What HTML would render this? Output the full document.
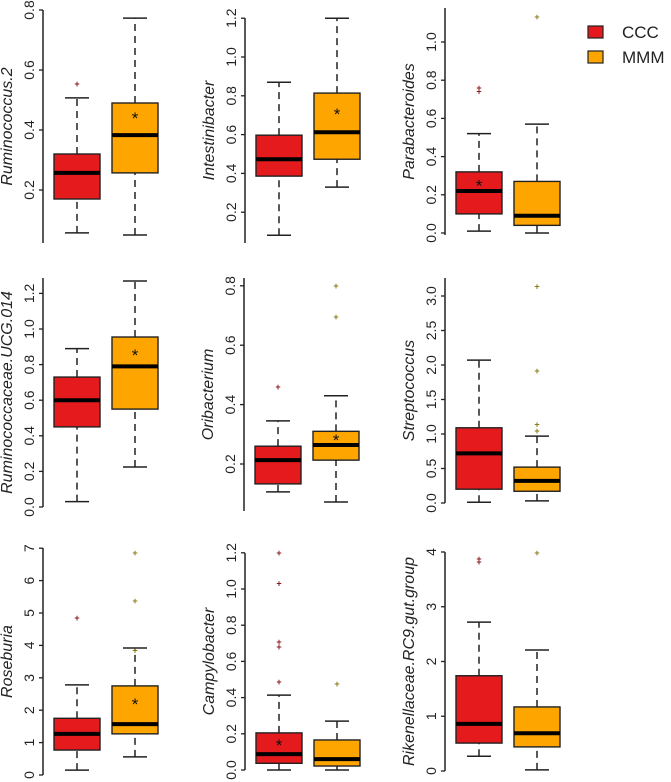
<!DOCTYPE html>
<html><head><meta charset="utf-8"><style>
html,body{margin:0;padding:0;background:#fff;}
svg{display:block;font-family:"Liberation Sans",sans-serif;}
</style></head><body>
<svg id="chart" width="671" height="782" viewBox="0 0 671 782"></svg>
<script>
// ---- data (values) ----
const groups = ["CCC", "MMM"];
const taxa = ["Ruminococcus.2","Intestinibacter","Parabacteroides","Ruminococcaceae.UCG.014","Oribacterium","Streptococcus","Roseburia","Campylobacter","Rikenellaceae.RC9.gut.group"];
// [low whisker, q1, median, q3, high whisker]
const cccStats = [
  [0.057,0.17,0.257,0.32,0.507],
  [0.081,0.386,0.473,0.597,0.870],
  [0.01,0.10,0.22,0.32,0.52],
  [0.03,0.45,0.60,0.73,0.89],
  [0.106,0.133,0.213,0.26,0.345],
  [0.01,0.2,0.72,1.09,2.07],
  [0.15,0.77,1.27,1.75,2.78],
  [0.0,0.037,0.088,0.205,0.414],
  [0.27,0.51,0.86,1.74,2.72]
];
const mmmStats = [
  [0.05,0.257,0.383,0.49,0.773],
  [0.329,0.473,0.612,0.814,1.2],
  [0.0,0.04,0.09,0.27,0.57],
  [0.225,0.55,0.79,0.955,1.27],
  [0.072,0.213,0.264,0.31,0.43],
  [0.03,0.17,0.32,0.52,0.97],
  [0.56,1.27,1.57,2.75,3.92],
  [0.0,0.022,0.06,0.166,0.27],
  [0.02,0.44,0.69,1.17,2.21]
];
const cccOutliers = [[0.553],[],[0.76,0.74],[],[0.46],[],[4.84],[0.486,0.68,0.707,1.03,1.2],[3.87,3.82]];
const mmmOutliers = [[],[],[1.13],[],[0.695,0.80],[1.04,1.14,1.91,3.14],[3.85,5.37,6.85],[0.475],[3.98]];
const cccMeans = [null,null,0.26,null,null,null,null,0.15,null];
const mmmMeans = [0.447,0.716,null,0.865,0.288,null,2.25,null,null];
const tickLabels = [
  ["0.2","0.4","0.6","0.8"],
  ["0.2","0.4","0.6","0.8","1.0","1.2"],
  ["0.0","0.2","0.4","0.6","0.8","1.0"],
  ["0.0","0.2","0.4","0.6","0.8","1.0","1.2"],
  ["0.2","0.4","0.6","0.8"],
  ["0.0","0.5","1.0","1.5","2.0","2.5","3.0"],
  ["0","1","2","3","4","5","6","7"],
  ["0.0","0.2","0.4","0.6","0.8","1.0","1.2"],
  ["0","1","2","3","4"]
];
// ---- layout (pixels) ----
const axX = [43,245,445,43,244,445,43,245,445];
const yAt0 = [250,251,233,507,523.4,503,775,770,771];
const pxPerUnit = [300,194,191,178,297,69,32.4,181,54.75];
const axTop = [10,18,8,278,278,278,548,553,552];
const axBot = [243,243,235,507,511,503,775,770,771];
const boxOff = [34,92];
const colors = ["#e41a1c","#ffa500"];
const outColors = ["#8b1a1a","#8a7a10"];

const NS="http://www.w3.org/2000/svg";
const svg=document.getElementById('chart');
function mk(tag,attrs,parent){const e=document.createElementNS(NS,tag);for(const k in attrs)e.setAttribute(k,attrs[k]);(parent||svg).appendChild(e);return e;}

taxa.forEach((name,i)=>{
  const g=mk('g',{});
  
  
  const y=v=>yAt0[i]-v*pxPerUnit[i];
  const ax=axX[i];
  const axis=mk('line',{x1:ax,x2:ax,y1:axTop[i],y2:axBot[i],stroke:'#222','stroke-width':1.5},g);
  
  
  tickLabels[i].forEach(t=>{
    const ty=y(parseFloat(t));
    const tk=mk('line',{x1:ax-4,x2:ax,y1:ty,y2:ty,stroke:'#222','stroke-width':1.3},g);
    
    
    const tl=mk('text',{x:ax-9,y:ty,'font-size':14,fill:'#222','text-anchor':'middle',transform:`rotate(-90 ${ax-9} ${ty})`},g);
    tl.textContent=t;
    
    
  });
  const tx=ax-31, tcy=(axTop[i]+axBot[i])/2;
  const title=mk('text',{x:tx,y:tcy,'font-size':16,'font-style':'italic',fill:'#222','text-anchor':'middle',transform:`rotate(-90 ${tx} ${tcy})`},g);
  title.textContent=name;
  
  
  [cccStats[i],mmmStats[i]].forEach((s,j)=>{
    const cx=ax+boxOff[j];
    const bg=mk('g',{},g);
    
    
    mk('line',{x1:cx,x2:cx,y1:y(s[0]),y2:y(s[1]),stroke:'#222','stroke-width':1.5,'stroke-dasharray':'7,5'},bg);
    mk('line',{x1:cx,x2:cx,y1:y(s[3]),y2:y(s[4]),stroke:'#222','stroke-width':1.5,'stroke-dasharray':'7,5'},bg);
    mk('line',{x1:cx-12,x2:cx+12,y1:y(s[0]),y2:y(s[0]),stroke:'#222','stroke-width':1.5},bg);
    mk('line',{x1:cx-12,x2:cx+12,y1:y(s[4]),y2:y(s[4]),stroke:'#222','stroke-width':1.5},bg);
    mk('rect',{x:cx-23,y:y(s[3]),width:46,height:y(s[1])-y(s[3]),fill:colors[j],stroke:'#222','stroke-width':1.4},bg);
    mk('line',{x1:cx-23,x2:cx+23,y1:y(s[2]),y2:y(s[2]),stroke:'#000','stroke-width':4},bg);
    const outs=[cccOutliers,mmmOutliers][j][i];
    outs.forEach(o=>{
      const p=mk('text',{x:cx,y:y(o)+3,'font-size':9,'font-weight':'bold',fill:outColors[j],'text-anchor':'middle'},bg);
      p.textContent='+';
      
      
    });
    const m=[cccMeans,mmmMeans][j][i];
    if(m!==null){
      const st=mk('text',{x:cx,y:y(m)+8,'font-size':17,fill:'#111','text-anchor':'middle'},bg);
      st.textContent='*';
      
      
    }
  });
});

// legend
const lg=mk('g',{});


groups.forEach((gname,j)=>{
  const ly=26+j*25;
  const r=mk('rect',{x:588,y:ly,width:15,height:12,fill:colors[j],stroke:'#222','stroke-width':1.2},lg);
  
  
  const t=mk('text',{x:622,y:ly+12,'font-size':17,fill:'#222'},lg);
  t.textContent=gname;
  
  
});
</script>
</body></html>
